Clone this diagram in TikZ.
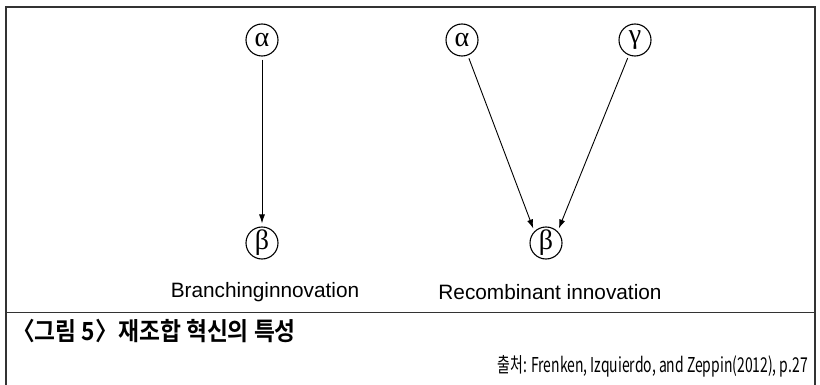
\documentclass[tikz,border=0pt]{standalone}
\usepackage{fontspec}
\setmainfont{Liberation Sans}
\newfontfamily\greekfont{Liberation Serif}
\newfontfamily\krfont{Noto Sans CJK KR}
\newfontfamily\krbold{Noto Sans CJK KR Bold}
\usetikzlibrary{arrows.meta}
\begin{document}
\begin{tikzpicture}[x=1pt,y=-1pt,
  greek/.style={circle,draw,line width=1.1pt,minimum size=32pt,inner sep=0pt,font=\greekfont\fontsize{28}{28}\selectfont},
  link/.style={draw,line width=0.9pt,-{Latex[length=9pt,width=6pt]},shorten >=3pt,shorten <=3pt},
  label/.style={font=\fontsize{20.8}{22}\selectfont},
  frame/.style={line width=1.6pt,black!80}]
  \useasboundingbox (0,0) rectangle (820,385);
  % outer frame and caption separator
  \draw[frame] (6,392) -- (6,7) -- (815,7) -- (815,392);
  \draw[line width=1pt,black!80] (6,312) -- (815,312);

  % branching innovation
  \node[greek] (a1) at (262,40) {α};
  \node[greek] (b1) at (262,243) {β};
  \draw[link] (a1) -- (b1);
  \node[label] (t1) at (265,292) {Branchinginnovation};

  % recombinant innovation
  \node[greek] (a2) at (462,40) {α};
  \node[greek] (g2) at (635,40) {γ};
  \node[greek] (b2) at (546,243) {β};
  \draw[link] (a2) -- (b2.north west);
  \draw[link] (g2) -- (b2.north east);
  \node[label] (t2) at (550,292) {Recombinant innovation};

  % caption and source
  \node[anchor=west,inner sep=0pt] (cap) at (12,331)
    {\scalebox{0.91}[1]{\krbold\fontsize{25}{28}\selectfont 〈그림 5〉재조합 혁신의 특성}};
  \node[anchor=east,inner sep=0pt] (src) at (808,366)
    {\scalebox{0.68}[1]{\krfont\fontsize{20.5}{24}\selectfont 출처: Frenken, Izquierdo, and Zeppin(2012), p.27}};
\end{tikzpicture}
\end{document}
